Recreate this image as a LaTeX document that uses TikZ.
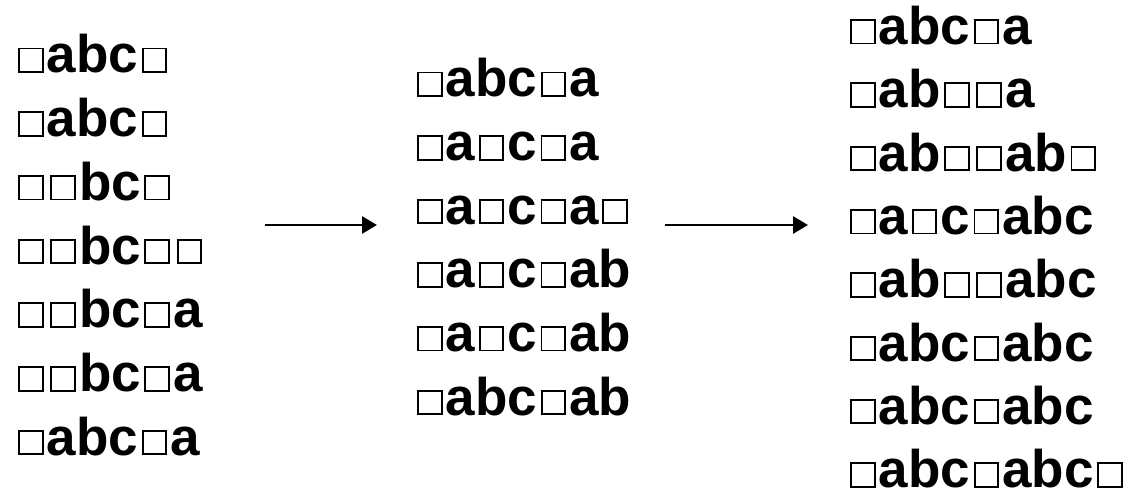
\documentclass[tikz,border=0pt]{standalone}
\usepackage{fontspec}
\setmainfont{Liberation Sans}
\usetikzlibrary{arrows.meta}
% an outlined empty square, used as the blank symbol
\newcommand\sq{\kern3.5pt\raisebox{1.9pt}{\fboxsep=0pt\fboxrule=1.9pt\fbox{\rule{0pt}{21.6pt}\rule{21.6pt}{0pt}}}\kern3.3pt}
\tikzset{
  word/.style={anchor=base west, inner sep=0pt, font=\fontsize{53}{60}\selectfont\bfseries},
  step arrow/.style={line width=2.8pt, -{Triangle[length=15pt,width=17pt]}}
}
\begin{document}
\begin{tikzpicture}[x=1pt,y=-1pt]
\useasboundingbox (0,0) rectangle (1127,497);
% first column
\foreach \t [count=\i] in {\sq abc\sq,\sq abc\sq,\sq\sq bc\sq,\sq\sq bc\sq\sq,\sq\sq bc\sq a,\sq\sq bc\sq a,\sq abc\sq a}
  \node[word] (c1r\i) at (14.5,{73+63.7*(\i-1)}) {\t};
% second column
\foreach \t [count=\i] in {\sq abc\sq a,\sq a\sq c\sq a,\sq a\sq c\sq a\sq,\sq a\sq c\sq ab,\sq a\sq c\sq ab,\sq abc\sq ab}
  \node[word] (c2r\i) at (413.5,{97+63.6*(\i-1)}) {\t};
% third column
\foreach \t [count=\i] in {\sq abc\sq a,\sq ab\sq\sq a,\sq ab\sq\sq ab\sq,\sq a\sq c\sq abc,\sq ab\sq\sq abc,\sq abc\sq abc,\sq abc\sq abc,\sq abc\sq abc\sq}
  \node[word] (c3r\i) at (846.5,{44.5+63.3*(\i-1)}) {\t};
% transitions
\coordinate (a1s) at (265,225);
\coordinate (a1e) at (377,225);
\coordinate (a2s) at (665,225);
\coordinate (a2e) at (808,225);
\draw[step arrow] (a1s) -- (a1e);
\draw[step arrow] (a2s) -- (a2e);
\end{tikzpicture}
\end{document}
